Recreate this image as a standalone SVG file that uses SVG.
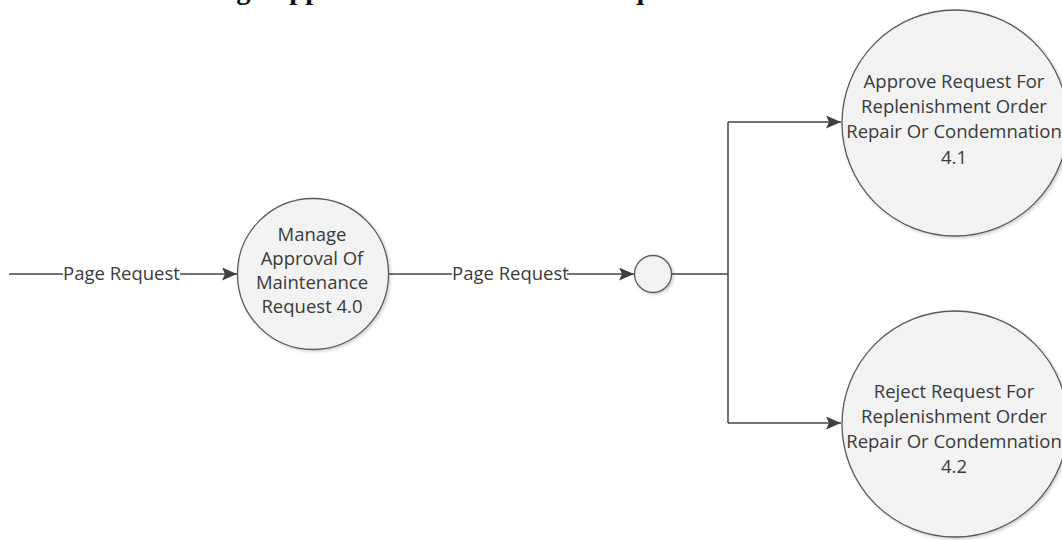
<svg xmlns="http://www.w3.org/2000/svg" width="1062" height="540" viewBox="0 0 1062 540">
<style>
.node{fill:#f2f2f2;stroke:#5a5a5a;stroke-width:1.3}
.t{font-family:"Open Sans","Liberation Sans",sans-serif;font-size:18.5px;fill:#3a3a3a;text-anchor:middle}
.lbl{font-family:"Open Sans","Liberation Sans",sans-serif;font-size:18.5px;fill:#3a3a3a}
.c{fill:none;stroke:#444;stroke-width:1.5}
.title{font-family:"Liberation Serif",serif;font-weight:bold;font-size:28.5px;fill:#111}
</style>
<defs>
<marker id="ah" viewBox="0 0 15 13" refX="15" refY="6.5" markerWidth="15" markerHeight="13" markerUnits="userSpaceOnUse" orient="auto">
<path d="M0,0 L15,6.5 L0,13 L3,6.5 Z" fill="#404040"/>
</marker>
<filter id="sh" x="-10%" y="-10%" width="130%" height="130%">
<feDropShadow dx="1.5" dy="1.5" stdDeviation="1.5" flood-color="#000" flood-opacity="0.2"/>
</filter>
</defs>
<rect width="1062" height="540" fill="#fff"/>
<text class="title" x="165" y="-1.5">Manage Approval Of Maintenance Request</text>
<g id="connectors">
<path class="c" d="M9,274 H63" />
<path class="c" d="M180,274 H237" marker-end="url(#ah)"/>
<path class="c" d="M388,274 H452"/>
<path class="c" d="M567,274 H634" marker-end="url(#ah)"/>
<path class="c" d="M672,274 H728 M728,122 V423"/>
<path class="c" d="M728,122 H841" marker-end="url(#ah)"/>
<path class="c" d="M728,423 H841" marker-end="url(#ah)"/>
<text class="lbl" x="63" y="280">Page Request</text>
<text class="lbl" x="452" y="280">Page Request</text>
</g>
<g id="node-4-0">
<circle class="node" cx="313" cy="274" r="75.5" filter="url(#sh)"/>
<text class="t" x="312" y="241">Manage</text>
<text class="t" x="312" y="265">Approval Of</text>
<text class="t" x="312" y="289">Maintenance</text>
<text class="t" x="312" y="313">Request 4.0</text>
</g>
<g id="junction">
<circle class="node" cx="653" cy="274" r="18.5" filter="url(#sh)"/>
</g>
<g id="node-4-1">
<circle class="node" cx="955" cy="123" r="113" filter="url(#sh)"/>
<text class="t" x="954" y="88">Approve Request For</text>
<text class="t" x="954" y="113">Replenishment Order</text>
<text class="t" x="954" y="138">Repair Or Condemnation</text>
<text class="t" x="954" y="164">4.1</text>
</g>
<g id="node-4-2">
<circle class="node" cx="955" cy="424" r="113" filter="url(#sh)"/>
<text class="t" x="954" y="398">Reject Request For</text>
<text class="t" x="954" y="423">Replenishment Order</text>
<text class="t" x="954" y="448">Repair Or Condemnation</text>
<text class="t" x="954" y="473">4.2</text>
</g>
</svg>
